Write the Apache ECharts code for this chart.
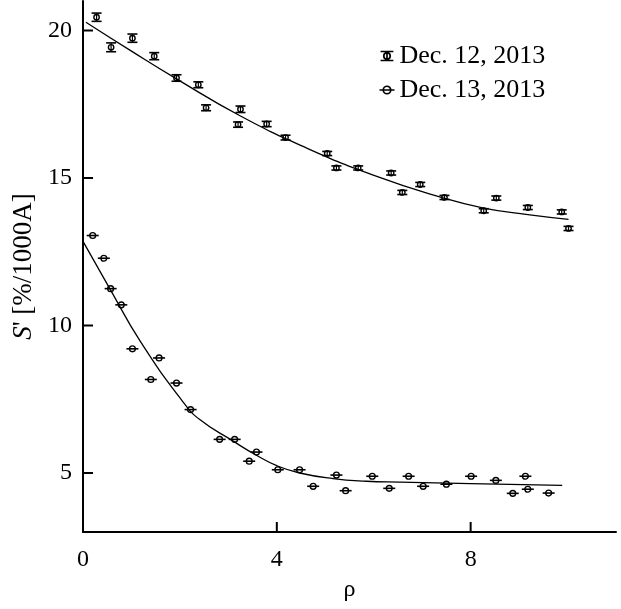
<!DOCTYPE html>
<html>
<head>
<meta charset="utf-8">
<script src="https://cdn.jsdelivr.net/npm/echarts@6/dist/echarts.min.js"></script>
<style>
html,body{margin:0;padding:0;background:#fff;}
#chart{width:621px;height:609px;}
</style>
</head>
<body>
<div id="chart"></div>
<script>
// Dec. 12, 2013 measurements: rho, S', error (S' units)
const dec12X   = [0.28, 0.58, 1.02, 1.47, 1.93, 2.38, 2.54, 3.25, 3.20, 3.79, 4.18, 5.04, 5.23, 5.68, 6.36, 6.59, 6.96, 7.46, 8.27, 8.53, 9.18, 9.88, 10.02];
const dec12Y   = [20.45, 19.43, 19.74, 19.13, 18.39, 18.16, 17.38, 17.33, 16.81, 16.83, 16.37, 15.83, 15.34, 15.34, 15.17, 14.51, 14.78, 14.34, 13.89, 14.32, 14.00, 13.85, 13.29];
const dec12Err = [0.14, 0.15, 0.14, 0.12, 0.11, 0.10, 0.10, 0.11, 0.09, 0.09, 0.08, 0.07, 0.07, 0.07, 0.07, 0.07, 0.07, 0.07, 0.07, 0.07, 0.07, 0.07, 0.07];

// Dec. 13, 2013 measurements: rho, S'
const dec13X = [0.20, 0.43, 0.57, 0.79, 1.02, 1.40, 1.57, 1.93, 2.22, 2.82, 3.13, 3.43, 3.58, 4.02, 4.47, 4.75, 5.23, 5.42, 5.97, 6.32, 6.72, 7.02, 7.50, 8.01, 8.52, 8.87, 9.13, 9.18, 9.61];
const dec13Y = [13.05, 12.28, 11.25, 10.70, 9.21, 8.17, 8.90, 8.05, 7.15, 6.14, 6.14, 5.40, 5.71, 5.11, 5.11, 4.55, 4.93, 4.40, 4.89, 4.48, 4.89, 4.55, 4.62, 4.89, 4.75, 4.31, 4.89, 4.45, 4.32];

// Fitted curves
const fit12X = [0.06, 1.00, 1.93, 3.24, 4.61, 5.99, 7.36, 8.27, 9.18, 10.02];
const fit12Y = [20.28, 19.30, 18.36, 17.11, 16.02, 15.10, 14.36, 13.98, 13.76, 13.60];
const fit13X = [0.00, 0.57, 1.18, 2.05, 2.41, 3.10, 3.58, 4.01, 4.47, 5.16, 5.85, 6.54, 8.00, 9.89];
const fit13Y = [12.85, 11.20, 9.47, 7.44, 6.81, 6.08, 5.60, 5.24, 5.00, 4.81, 4.72, 4.69, 4.64, 4.58];

const xTicks = [0, 4, 8];
const yTicks = [5, 10, 15, 20];
const seriesNames = ['Dec. 12, 2013', 'Dec. 13, 2013'];

const FONT = "'Liberation Serif', 'Times New Roman', serif";
const zip = (a, b, c) => a.map((v, i) => c ? [v, b[i], c[i]] : [v, b[i]]);

function render12(params, api) {
  const x = api.value(0), y = api.value(1), e = api.value(2);
  const p = api.coord([x, y]);
  const t = api.coord([x, y + e])[1];
  const b = api.coord([x, y - e])[1];
  const w = 5;
  const st = {stroke: '#000', lineWidth: 1.6, fill: null};
  return {type: 'group', children: [
    {type: 'line', shape: {x1: p[0] - w, y1: t, x2: p[0] + w, y2: t}, style: st},
    {type: 'line', shape: {x1: p[0] - w, y1: b, x2: p[0] + w, y2: b}, style: st},
    {type: 'line', shape: {x1: p[0], y1: t, x2: p[0], y2: b}, style: {stroke: '#000', lineWidth: 1.2}},
    {type: 'circle', shape: {cx: p[0], cy: p[1], r: 2.7}, style: {stroke: '#000', lineWidth: 1.4, fill: 'none'}}
  ]};
}
function render13(params, api) {
  const p = api.coord([api.value(0), api.value(1)]);
  const w = 6;
  return {type: 'group', children: [
    {type: 'line', shape: {x1: p[0] - w, y1: p[1], x2: p[0] + w, y2: p[1]}, style: {stroke: '#000', lineWidth: 1.6}},
    {type: 'circle', shape: {cx: p[0], cy: p[1], r: 2.9}, style: {stroke: '#000', lineWidth: 1.4, fill: 'none'}}
  ]};
}
// inside tick marks, positioned through the axis scales
function renderXTick(params, api) {
  const cs = params.coordSys;
  const px = api.coord([api.value(0), yTicks[0]])[0];
  const by = cs.y + cs.height;
  if (api.value(0) === 0) return null;
  return {type: 'line', shape: {x1: px, y1: by, x2: px, y2: by - 10}, style: {stroke: '#000', lineWidth: 2}};
}
function renderYTick(params, api) {
  const cs = params.coordSys;
  const py = api.coord([xTicks[0], api.value(1)])[1];
  return {type: 'line', shape: {x1: cs.x, y1: py, x2: cs.x + 10, y2: py}, style: {stroke: '#000', lineWidth: 2}};
}

const chart = echarts.init(document.getElementById('chart'));
chart.setOption({
  animation: false,
  backgroundColor: '#fff',
  color: ['#000', '#000'],
  grid: {left: 83, right: 5, top: 1, bottom: 77},
  legend: {
    orient: 'vertical', left: 372, top: 38, itemGap: 8,
    itemWidth: 15, itemHeight: 9,
    textStyle: {fontFamily: FONT, fontSize: 26, color: '#000'},
    itemStyle: {color: 'none', borderColor: '#000', borderWidth: 1.7},
    data: [
      {name: seriesNames[0], icon: 'path://M0,0 L10,0 M5,0 L5,7 M0,7 L10,7 M2.5,3.5 A2.5,2.5 0 1 0 7.5,3.5 A2.5,2.5 0 1 0 2.5,3.5'},
      {name: seriesNames[1], icon: 'path://M0,3.5 L10,3.5 M2.5,3.5 A2.5,2.5 0 1 0 7.5,3.5 A2.5,2.5 0 1 0 2.5,3.5'}
    ]
  },
  xAxis: {
    type: 'value', min: 0, max: 11,
    name: 'ρ', nameLocation: 'middle', nameGap: 46,
    nameTextStyle: {fontFamily: FONT, fontSize: 24, color: '#000'},
    axisLine: {lineStyle: {color: '#000', width: 2}},
    axisTick: {show: false},
    axisLabel: {fontFamily: FONT, fontSize: 24, color: '#000', margin: 16, customValues: xTicks},
    splitLine: {show: false}
  },
  yAxis: {
    type: 'value', min: 3, max: 21,
    name: "{i|S}' [%/1000A]", nameLocation: 'middle', nameGap: 44,
    nameTextStyle: {fontFamily: FONT, fontSize: 27, color: '#000',
      rich: {i: {fontFamily: FONT, fontSize: 27, fontStyle: 'italic', color: '#000'}}},
    axisLine: {lineStyle: {color: '#000', width: 2}},
    axisTick: {show: false},
    axisLabel: {fontFamily: FONT, fontSize: 24, color: '#000', margin: 11, customValues: yTicks},
    splitLine: {show: false}
  },
  series: [
    {name: seriesNames[0], type: 'custom', renderItem: render12, data: zip(dec12X, dec12Y, dec12Err), z: 3},
    {name: seriesNames[1], type: 'custom', renderItem: render13, data: zip(dec13X, dec13Y), z: 3},
    {name: 'fit12', type: 'line', data: zip(fit12X, fit12Y), smooth: true, showSymbol: false,
      lineStyle: {color: '#000', width: 1.3}, z: 2},
    {name: 'fit13', type: 'line', data: zip(fit13X, fit13Y), smooth: true, showSymbol: false,
      lineStyle: {color: '#000', width: 1.3}, z: 2},
    {name: 'xticks', type: 'custom', renderItem: renderXTick, clip: false, silent: true, z: 5,
      data: xTicks.map(v => [v, yTicks[0]])},
    {name: 'yticks', type: 'custom', renderItem: renderYTick, clip: false, silent: true, z: 5,
      data: yTicks.map(v => [xTicks[0], v])}
  ]
});
</script>
</body>
</html>
